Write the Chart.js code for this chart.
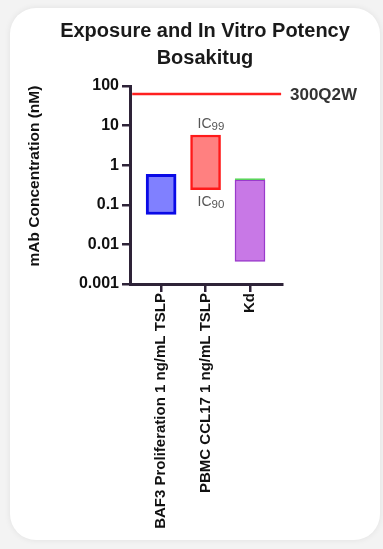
<!DOCTYPE html>
<html>
<head>
<meta charset="utf-8">
<script src="https://cdn.jsdelivr.net/npm/chart.js@4.4.1/dist/chart.umd.min.js"></script>
<style>
  html, body { margin: 0; padding: 0; background: #f3f3f3; }
  #wrap { position: relative; width: 383px; height: 549px; overflow: hidden; }
  #card { position: absolute; left: 10px; top: 8px; width: 370px; height: 532px; background: #fff;
          border-radius: 26px; box-shadow: 0 0 6px rgba(0,0,0,0.08); }
  #c { position: absolute; left: 0; top: 0; }
</style>
</head>
<body>
<div id="wrap">
  <div id="card"></div>
  <canvas id="c" width="383" height="549"></canvas>
</div>
<script>
// ---- data ----
const categories = ['BAF3 Proliferation 1 ng/mL TSLP', 'PBMC CCL17 1 ng/mL TSLP', 'Kd'];
const lowValues  = [0.057, 0.24, 0.0037];   // IC90 / lower bound (nM)
const highValues = [0.59, 5.8, 0.43];       // IC99 / upper bound (nM)
const exposureLabel = '300Q2W';
const exposureValue = 63;                   // nM
const yTickValues = [0.001, 0.01, 0.1, 1, 10, 100];
const yTickLabels = ['0.001', '0.01', '0.1', '1', '10', '100'];
const yAxisTitle = 'mAb Concentration (nM)';
const fillColors   = ['#8080ff', '#ff8080', '#c878e6'];
const borderColors = ['#0a0ae6', '#ff1a1a', '#9a3acb'];
const borderWidths = [3, 2.5, 1.5];

const AXIS = '#2e2338';
const FONT = '"Liberation Sans", Arial, sans-serif';
const xMin = -0.7, xMax = 2.72;

const rangeData = categories.map((c, i) => ({ x: i, y: [lowValues[i], highValues[i]] }));

const annot = {
  id: 'annot',
  afterDatasetsDraw(chart) {
    const ctx = chart.ctx;
    const ys = chart.scales.y;
    const area = chart.chartArea;
    const bars = chart.getDatasetMeta(0).data;
    ctx.save();
    // exposure label
    ctx.fillStyle = '#333';
    ctx.font = 'bold 17px ' + FONT;
    ctx.textBaseline = 'middle';
    ctx.textAlign = 'left';
    ctx.fillText(exposureLabel, area.right + 8, ys.getPixelForValue(exposureValue) + 1);
    // y-axis title
    ctx.save();
    ctx.translate(35, (area.top + area.bottom) / 2 - 9);
    ctx.rotate(-Math.PI / 2);
    ctx.textAlign = 'center';
    ctx.fillStyle = '#111';
    ctx.font = 'bold 15.5px ' + FONT;
    ctx.fillText(yAxisTitle, 0, 0);
    ctx.restore();
    // IC labels on second bar
    const b = bars[1];
    const left = b.x - b.width / 2;
    function ic(sub, y) {
      ctx.fillStyle = '#555';
      ctx.font = '14px ' + FONT;
      ctx.textAlign = 'left';
      ctx.textBaseline = 'middle';
      ctx.fillText('IC', left + 7, y);
      const w = ctx.measureText('IC').width;
      ctx.font = '11.5px ' + FONT;
      ctx.fillText(sub, left + 7 + w, y + 3);
    }
    ic('99', b.y - 11);
    ic('90', b.base + 12);
    // green top edge of Kd bar
    const k = bars[2];
    ctx.strokeStyle = '#55d455';
    ctx.lineWidth = 1.5;
    ctx.beginPath();
    ctx.moveTo(k.x - k.width / 2, k.y - 0.5);
    ctx.lineTo(k.x + k.width / 2, k.y - 0.5);
    ctx.stroke();
    ctx.restore();
  }
};

new Chart(document.getElementById('c'), {
  data: {
    datasets: [
      {
        type: 'bar',
        data: rangeData,
        backgroundColor: fillColors,
        borderColor: borderColors,
        borderWidth: borderWidths,
        borderSkipped: false,
        barThickness: 30,
        order: 2
      },
      {
        type: 'line',
        data: [{ x: xMin + 0.05, y: exposureValue }, { x: xMax - 0.02, y: exposureValue }],
        borderColor: '#ff2020',
        borderWidth: 2.5,
        pointRadius: 0,
        order: 1
      }
    ]
  },
  options: {
    responsive: false,
    animation: false,
    events: [],
    layout: { padding: { left: 27, right: 0, top: 0, bottom: 12 } },
    plugins: {
      legend: { display: false },
      tooltip: { enabled: false },
      title: {
        display: true,
        text: ['Exposure and In Vitro Potency', 'Bosakitug'],
        color: '#1a1a1a',
        font: { family: FONT, size: 20, weight: 'bold', lineHeight: 1.35 },
        padding: { top: 18, bottom: 14 }
      }
    },
    scales: {
      x: {
        type: 'linear',
        min: xMin,
        max: xMax,
        offset: false,
        afterBuildTicks: s => { s.ticks = categories.map((c, i) => ({ value: i })); },
        afterFit: s => { s.height = 549 - 284 - 12; },
        ticks: {
          autoSkip: false,
          minRotation: 90,
          maxRotation: 90,
          padding: 1,
          color: '#111',
          font: { family: FONT, size: 15, weight: 'bold' },
          callback: (v) => categories[v] ?? ''
        },
        grid: { display: true, offset: false, drawOnChartArea: false, tickLength: 8, color: AXIS, lineWidth: 2.5 },
        border: { display: true, color: AXIS, width: 3 }
      },
      y: {
        type: 'logarithmic',
        min: 0.001,
        max: 100,
        afterBuildTicks: s => { s.ticks = yTickValues.map(v => ({ value: v })); },
        afterFit: s => { s.width = 103; },
        ticks: {
          padding: 3,
          color: '#111',
          font: { family: FONT, size: 16, weight: 'bold' },
          callback: (v) => { const i = yTickValues.indexOf(v); return i >= 0 ? yTickLabels[i] : ''; }
        },
        grid: { display: true, drawOnChartArea: false, tickLength: 8, color: AXIS, lineWidth: 2.5 },
        border: { display: true, color: AXIS, width: 3 }
      },
      yRightSpace: {
        type: 'linear',
        position: 'right',
        display: true,
        afterFit: s => { s.width = 101; },
        ticks: { display: false },
        grid: { display: false },
        border: { display: false }
      }
    }
  },
  plugins: [annot]
});
</script>
</body>
</html>
